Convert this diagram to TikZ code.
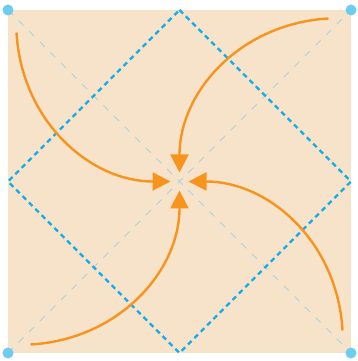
\documentclass[tikz,border=0pt]{standalone}
\usepackage{xcolor}
\definecolor{paperpeach}{HTML}{F7E2CA}
\definecolor{swirlorange}{HTML}{F7941D}
\definecolor{diamondcyan}{HTML}{12AEEA}
\definecolor{diaggray}{HTML}{A8D5E2}
\definecolor{dotblue}{HTML}{6CCDEE}
\usepackage{tikz}
\usetikzlibrary{arrows.meta, calc}
\tikzset{
  paper/.style    ={fill=paperpeach},
  diagline/.style ={draw=diaggray, line width=0.9pt, dash pattern=on 7pt off 8pt},
  diamondline/.style={draw=diamondcyan, line width=2.4pt, dash pattern=on 5pt off 4pt},
  swirl/.style    ={draw=swirlorange, line width=2.4pt, -{Triangle[length=18pt, width=18pt]}},
  cornerdot/.style={circle, fill=dotblue, inner sep=0pt, minimum size=11pt},
}

\begin{document}
\begin{tikzpicture}[x=1pt, y=1pt]
  \useasboundingbox (-8,-8) rectangle (349,353);
  \coordinate (bl) at (0,0);   \coordinate (br) at (343,0);
  \coordinate (tl) at (0,343); \coordinate (tr) at (343,343);
  \coordinate (c) at (171.5,171.5);
  \coordinate (mn) at ($(tl)!0.5!(tr)$); \coordinate (ms) at ($(bl)!0.5!(br)$);
  \coordinate (mw) at ($(bl)!0.5!(tl)$); \coordinate (me) at ($(br)!0.5!(tr)$);
  \fill[paper] (bl) rectangle (tr);
  \draw[diagline] (tl) -- (br); \draw[diagline] (bl) -- (tr);
  \draw[diamondline] (mn) -- (me) -- (ms) -- (mw) -- cycle;
  \foreach \a [count=\i] in {0,-90,-180,-270} {
    \begin{scope}[shift={(c)}, rotate=\a]
      \coordinate (s\i) at (-163,149);
      \coordinate (t\i) at (-9,0);
      \draw[swirl] (s\i) .. controls (-158,61) and (-90,0) .. (t\i);
    \end{scope}
  }
  \node[cornerdot] (dtl) at (tl) {}; \node[cornerdot] (dtr) at (tr) {};
  \node[cornerdot] (dbl) at (bl) {}; \node[cornerdot] (dbr) at (br) {};
\end{tikzpicture}
\end{document}
